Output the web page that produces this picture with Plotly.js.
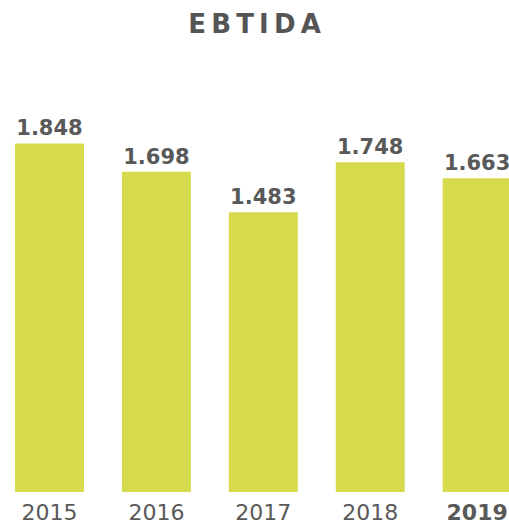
<!DOCTYPE html>
<html>
<head>
<meta charset="utf-8">
<script src="https://cdn.plot.ly/plotly-3.0.1.min.js"></script>
<style>
  html, body { margin: 0; padding: 0; background: #fff; }
  #chart { width: 509px; height: 528px; }
</style>
</head>
<body>
<div id="chart"></div>
<script>
var years = ['2015', '2016', '2017', '2018', '2019'];
var yearLabels = ['2015', '2016', '2017', '2018', '<b>2019</b>'];
var ebtida = [1848, 1698, 1483, 1748, 1663];
var valueLabels = ['1.848', '1.698', '1.483', '1.748', '1.663'];

var grey = '#595959';

var trace = {
    type: 'bar',
    x: years,
    y: ebtida,
    text: valueLabels.map(function (t) { return '<b>' + t + '</b>'; }),
    textposition: 'outside',
    cliponaxis: false,
    textfont: { family: 'DejaVu Sans', size: 21, color: grey },
    marker: { color: '#d6db4e' },
    hoverinfo: 'none'
};

var layout = {
    width: 509,
    height: 528,
    margin: { l: 0, r: 0, t: 60, b: 36 },
    paper_bgcolor: '#ffffff',
    plot_bgcolor: '#ffffff',
    showlegend: false,
    bargap: 0.355,
    uniformtext: { mode: false },
    title: {
        text: '<b>E\u2009B\u2009T\u2009I\u2009D\u2009A</b>',
        font: { family: 'DejaVu Sans', size: 26, color: '#555555' },
        x: 0.5,
        xanchor: 'center',
        xref: 'paper',
        y: 1 - 24 / 528,
        yref: 'container',
        yanchor: 'middle'
    },
    xaxis: {
        type: 'category',
        range: [-0.463, 4.298],
        tickvals: years,
        ticktext: yearLabels,
        tickfont: { family: 'DejaVu Sans', size: 22, color: grey },
        showgrid: false,
        zeroline: false,
        showline: false,
        ticks: '',
        ticklabelstandoff: 5,
        automargin: false,
        fixedrange: true
    },
    yaxis: {
        range: [0, 2290],
        visible: false,
        showgrid: false,
        zeroline: false,
        fixedrange: true
    }
};

Plotly.newPlot('chart', [trace], layout, { displayModeBar: false, staticPlot: true });
</script>
</body>
</html>
